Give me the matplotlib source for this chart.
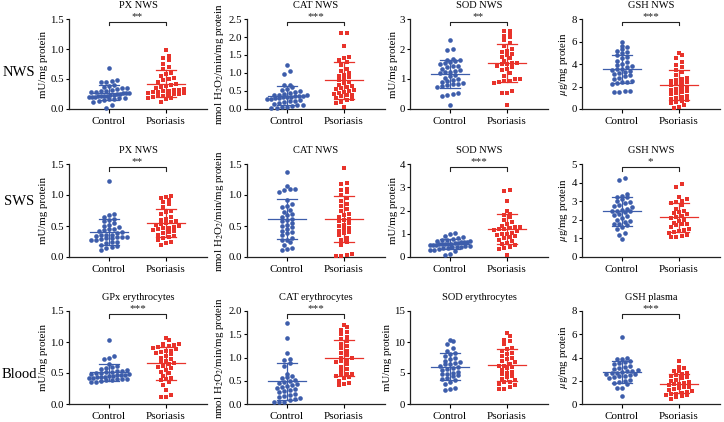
import numpy as np
import matplotlib
matplotlib.use("Agg")
import matplotlib.pyplot as plt
import matplotlib.transforms as mtransforms

plt.rcParams['font.family'] = ['Liberation Serif', 'DejaVu Serif']
plt.rcParams['mathtext.fontset'] = 'stix'

# values (one list per group and panel)
px_nws_ctrl = [0.69, 0.48, 0.47, 0.45, 0.45, 0.40, 0.38, 0.37, 0.35, 0.35, 0.33, 0.32, 0.30, 0.30,
               0.29, 0.28, 0.27, 0.27, 0.26, 0.25, 0.25, 0.24, 0.23, 0.22, 0.22, 0.21, 0.21, 0.20,
               0.20, 0.20, 0.19, 0.18, 0.17, 0.16, 0.15, 0.13, 0.12, 0.07, 0.02]
px_nws_pso = [0.98, 0.88, 0.85, 0.82, 0.75, 0.70, 0.67, 0.60, 0.58, 0.55, 0.52, 0.50, 0.48, 0.45,
              0.42, 0.40, 0.38, 0.36, 0.35, 0.33, 0.32, 0.31, 0.30, 0.30, 0.29, 0.28, 0.27, 0.26,
              0.25, 0.25, 0.24, 0.22, 0.21, 0.20, 0.19, 0.18, 0.16, 0.11]
cat_nws_ctrl = [1.22, 1.05, 0.98, 0.68, 0.66, 0.62, 0.55, 0.52, 0.50, 0.48, 0.45, 0.42, 0.40, 0.40,
                0.38, 0.36, 0.35, 0.35, 0.34, 0.33, 0.32, 0.30, 0.30, 0.28, 0.27, 0.25, 0.23, 0.22,
                0.20, 0.18, 0.15, 0.12, 0.10, 0.08, 0.05, 0.05, 0.03, 0.02]
cat_nws_pso = [2.10, 2.10, 1.75, 1.45, 1.42, 1.35, 1.30, 1.22, 1.10, 1.05, 1.00, 0.95, 0.92, 0.88,
               0.85, 0.80, 0.75, 0.72, 0.68, 0.65, 0.62, 0.58, 0.55, 0.52, 0.50, 0.48, 0.45, 0.42,
               0.40, 0.38, 0.35, 0.30, 0.28, 0.25, 0.20, 0.18, 0.05]
sod_nws_ctrl = [2.30, 2.00, 1.98, 1.68, 1.65, 1.62, 1.60, 1.58, 1.55, 1.50, 1.45, 1.42, 1.40, 1.35,
                1.30, 1.28, 1.25, 1.22, 1.20, 1.15, 1.10, 1.05, 1.00, 0.98, 0.95, 0.90, 0.88, 0.85,
                0.82, 0.80, 0.78, 0.75, 0.55, 0.50, 0.48, 0.45, 0.12]
sod_nws_pso = [2.60, 2.60, 2.50, 2.45, 2.40, 2.30, 2.20, 2.10, 2.00, 1.95, 1.90, 1.85, 1.80, 1.75,
               1.70, 1.60, 1.55, 1.55, 1.50, 1.50, 1.45, 1.40, 1.35, 1.30, 1.20, 1.10, 1.00, 1.00,
               0.95, 0.92, 0.90, 0.88, 0.60, 0.55, 0.55, 0.15]
gsh_nws_ctrl = [6.0, 5.6, 5.5, 5.3, 5.2, 5.1, 5.0, 4.8, 4.6, 4.5, 4.3, 4.2, 4.0, 3.9, 3.8, 3.7,
                3.6, 3.6, 3.5, 3.4, 3.3, 3.2, 3.1, 3.0, 2.9, 2.8, 2.7, 2.5, 2.4, 2.4, 2.3, 2.2,
                1.6, 1.6, 1.5, 1.5]
gsh_nws_pso = [5.0, 4.8, 4.5, 4.2, 3.9, 3.7, 3.5, 3.3, 3.0, 2.8, 2.7, 2.6, 2.5, 2.4, 2.3, 2.2,
               2.1, 2.0, 1.9, 1.8, 1.7, 1.6, 1.5, 1.4, 1.3, 1.2, 1.1, 1.0, 0.9, 0.8, 0.7, 0.6,
               0.5, 0.4, 0.2, 0.1]

px_sws_ctrl = [1.23, 0.69, 0.67, 0.65, 0.62, 0.60, 0.58, 0.55, 0.52, 0.50, 0.48, 0.45, 0.45, 0.43,
               0.42, 0.40, 0.38, 0.36, 0.35, 0.35, 0.34, 0.33, 0.32, 0.32, 0.30, 0.30, 0.29, 0.28,
               0.27, 0.25, 0.24, 0.22, 0.20, 0.18, 0.16, 0.15, 0.12]
px_sws_pso = [0.98, 0.97, 0.95, 0.92, 0.88, 0.85, 0.80, 0.75, 0.72, 0.70, 0.65, 0.62, 0.60, 0.58,
              0.56, 0.55, 0.53, 0.52, 0.50, 0.48, 0.47, 0.46, 0.45, 0.44, 0.42, 0.40, 0.38, 0.36,
              0.34, 0.32, 0.30, 0.28, 0.25, 0.22, 0.20]
cat_sws_ctrl = [1.37, 1.15, 1.10, 1.09, 1.08, 1.05, 0.92, 0.85, 0.83, 0.80, 0.76, 0.73, 0.70, 0.68,
                0.65, 0.62, 0.60, 0.58, 0.55, 0.52, 0.50, 0.48, 0.45, 0.42, 0.40, 0.38, 0.35, 0.30,
                0.28, 0.27, 0.25, 0.20, 0.15, 0.13, 0.12]
cat_sws_pso = [1.43, 1.20, 1.17, 1.10, 1.08, 1.05, 1.00, 0.95, 0.90, 0.85, 0.82, 0.78, 0.75, 0.70,
               0.67, 0.65, 0.62, 0.60, 0.58, 0.55, 0.52, 0.50, 0.47, 0.45, 0.42, 0.40, 0.38, 0.35,
               0.30, 0.27, 0.25, 0.20, 0.05, 0.04, 0.02, 0.01]
sod_sws_ctrl = [1.02, 0.98, 0.90, 0.85, 0.80, 0.78, 0.75, 0.72, 0.70, 0.68, 0.66, 0.65, 0.63, 0.62,
                0.60, 0.58, 0.57, 0.56, 0.55, 0.54, 0.52, 0.50, 0.50, 0.48, 0.46, 0.45, 0.44, 0.42,
                0.40, 0.38, 0.35, 0.32, 0.30, 0.25, 0.12, 0.10]
sod_sws_pso = [2.90, 2.85, 2.40, 2.00, 1.85, 1.80, 1.70, 1.60, 1.50, 1.40, 1.35, 1.30, 1.30, 1.25,
               1.20, 1.20, 1.15, 1.10, 1.05, 1.00, 1.00, 0.95, 0.90, 0.85, 0.80, 0.75, 0.70, 0.60,
               0.55, 0.50, 0.45, 0.40, 0.35, 0.10]
gsh_sws_ctrl = [4.25, 4.15, 3.40, 3.30, 3.25, 3.20, 3.10, 3.00, 2.95, 2.90, 2.80, 2.75, 2.70, 2.60,
                2.55, 2.50, 2.50, 2.45, 2.40, 2.30, 2.25, 2.20, 2.10, 2.00, 1.95, 1.90, 1.80, 1.75,
                1.70, 1.60, 1.50, 1.30, 1.20, 0.95]
gsh_sws_pso = [3.90, 3.75, 3.20, 3.10, 3.00, 2.95, 2.90, 2.80, 2.60, 2.50, 2.40, 2.35, 2.30, 2.20,
               2.15, 2.10, 2.00, 1.95, 1.85, 1.80, 1.75, 1.70, 1.60, 1.50, 1.45, 1.40, 1.35, 1.30,
               1.20, 1.15, 1.10, 1.05]

gpx_ery_ctrl = [1.03, 0.78, 0.75, 0.72, 0.65, 0.62, 0.60, 0.58, 0.56, 0.55, 0.54, 0.53, 0.52, 0.51,
                0.50, 0.50, 0.49, 0.48, 0.47, 0.46, 0.46, 0.45, 0.45, 0.44, 0.44, 0.43, 0.42, 0.42,
                0.41, 0.40, 0.40, 0.39, 0.38, 0.37, 0.36, 0.35]
gpx_ery_pso = [1.07, 1.03, 0.97, 0.96, 0.95, 0.94, 0.93, 0.92, 0.90, 0.88, 0.86, 0.85, 0.84, 0.82,
               0.80, 0.78, 0.75, 0.72, 0.70, 0.68, 0.66, 0.65, 0.62, 0.60, 0.58, 0.55, 0.52, 0.50,
               0.45, 0.42, 0.40, 0.38, 0.35, 0.30, 0.22, 0.15, 0.12, 0.11]
cat_ery_ctrl = [1.75, 1.43, 1.10, 0.97, 0.95, 0.88, 0.82, 0.65, 0.60, 0.58, 0.55, 0.52, 0.50, 0.48,
                0.45, 0.42, 0.40, 0.38, 0.36, 0.35, 0.32, 0.30, 0.28, 0.25, 0.22, 0.20, 0.18, 0.15,
                0.12, 0.10, 0.08, 0.05, 0.05, 0.04]
cat_ery_pso = [1.70, 1.65, 1.60, 1.55, 1.50, 1.45, 1.40, 1.35, 1.30, 1.25, 1.20, 1.15, 1.10, 1.05,
               1.00, 0.98, 0.95, 0.92, 0.90, 0.85, 0.80, 0.75, 0.70, 0.65, 0.65, 0.62, 0.60, 0.58,
               0.55, 0.50, 0.45, 0.42, 0.40]
sod_ery_ctrl = [10.4, 10.1, 9.6, 9.0, 8.5, 8.2, 8.0, 7.8, 7.5, 7.3, 7.0, 6.8, 6.6, 6.5, 6.4, 6.2,
                6.0, 5.8, 5.6, 5.5, 5.2, 5.0, 4.9, 4.8, 4.6, 4.5, 4.2, 4.0, 3.8, 3.5, 3.2, 2.6,
                2.5, 2.3]
sod_ery_pso = [11.5, 11.0, 10.4, 10.2, 9.6, 9.1, 8.8, 8.5, 8.2, 8.0, 7.8, 7.5, 7.2, 7.0, 6.8, 6.5,
               6.2, 6.2, 6.0, 5.8, 5.5, 5.1, 5.0, 4.8, 4.5, 4.3, 4.0, 3.8, 3.5, 3.5, 3.2, 3.0,
               2.8, 2.4, 2.4]
gsh_pla_ctrl = [5.80, 3.95, 3.90, 3.85, 3.70, 3.60, 3.50, 3.40, 3.30, 3.20, 3.10, 3.00, 2.90, 2.85,
                2.80, 2.75, 2.70, 2.65, 2.60, 2.55, 2.50, 2.45, 2.40, 2.30, 2.20, 2.10, 2.00, 1.90,
                1.80, 1.70, 1.40, 1.40, 0.70]
gsh_pla_pso = [3.70, 3.20, 3.10, 2.85, 2.80, 2.70, 2.60, 2.50, 2.40, 2.30, 2.20, 2.10, 2.00, 1.90,
               1.80, 1.75, 1.70, 1.60, 1.50, 1.45, 1.40, 1.30, 1.20, 1.10, 1.00, 0.95, 0.90, 0.85,
               0.80, 0.75, 0.70, 0.60, 0.40]

titles = [["PX NWS", "CAT NWS", "SOD NWS", "GSH NWS"],
          ["PX NWS", "CAT NWS", "SOD NWS", "GSH NWS"],
          ["GPx erythrocytes", "CAT erythrocytes", "SOD erythrocytes", "GSH plasma"]]
row_names = ["NWS", "SWS", "Blood"]
groups = ["Control", "Psoriasis"]
unit_px = "mU/mg protein"
unit_cat = "nmol H$_2$O$_2$/min/mg protein"
unit_gsh = r"$\mu$g/mg protein"
ylabels = [unit_px, unit_cat, unit_px, unit_gsh]
stars = [["**", "***", "**", "***"],
         ["**", "", "***", "*"],
         ["***", "***", "", "***"]]
yticks = [[[0.0, 0.5, 1.0, 1.5], [0.0, 0.5, 1.0, 1.5, 2.0, 2.5], [0, 1, 2, 3], [0, 2, 4, 6, 8]],
          [[0.0, 0.5, 1.0, 1.5], [0.0, 0.5, 1.0, 1.5], [0, 1, 2, 3, 4], [0, 1, 2, 3, 4, 5]],
          [[0.0, 0.5, 1.0, 1.5], [0.0, 0.5, 1.0, 1.5, 2.0], [0, 5, 10, 15], [0, 2, 4, 6, 8]]]
data = [[(px_nws_ctrl, px_nws_pso), (cat_nws_ctrl, cat_nws_pso), (sod_nws_ctrl, sod_nws_pso), (gsh_nws_ctrl, gsh_nws_pso)],
        [(px_sws_ctrl, px_sws_pso), (cat_sws_ctrl, cat_sws_pso), (sod_sws_ctrl, sod_sws_pso), (gsh_sws_ctrl, gsh_sws_pso)],
        [(gpx_ery_ctrl, gpx_ery_pso), (cat_ery_ctrl, cat_ery_pso), (sod_ery_ctrl, sod_ery_pso), (gsh_pla_ctrl, gsh_pla_pso)]]

blue = "#3d5dab"
red = "#e8332b"
W, H = 724, 422


def swarm(ax, vals, d, h, maxw):
    # graphpad-like scatter: points binned into rows of h pixels,
    # each row spread sideways with spacing d (squeezed to fit +-maxw)
    bb = ax.get_window_extent()
    y0, y1 = ax.get_ylim()
    x0, x1 = ax.get_xlim()
    ys = np.array(vals) * bb.height / (y1 - y0)
    order = np.argsort(ys)
    xs = np.zeros(len(vals))
    rows = []
    for i in order:
        if rows and ys[i] - ys[rows[-1][0]] < h:
            rows[-1].append(i)
        else:
            rows.append([i])
    for row in rows:
        n = len(row)
        s = d if n < 2 else min(d, 2 * maxw / (n - 1))
        for j, i in enumerate(row):
            xs[i] = (j - (n - 1) / 2) * s
    return xs * (x1 - x0) / bb.width


fig = plt.figure(figsize=(W / 100, H / 100), dpi=100)
col_left = [69, 247, 410, 582]
row_top = [19, 164, 311]
row_bot = [109, 257, 404]
aw = 138

for r in range(3):
    for c in range(4):
        ax = fig.add_axes([col_left[c] / W, 1 - row_bot[r] / H, aw / W, (row_bot[r] - row_top[r]) / H])
        yt = yticks[r][c]
        ax.set_xlim(-0.7, 1.72)
        ax.set_ylim(0, yt[-1])
        ax.set_yticks(yt)
        if isinstance(yt[1], float):
            ax.set_yticklabels(["%.1f" % v for v in yt])
        ax.set_xticks([0, 1])
        ax.set_xticklabels(groups)
        for s in ["top", "right"]:
            ax.spines[s].set_visible(False)
        for s in ["left", "bottom"]:
            ax.spines[s].set_color("#222222")
            ax.spines[s].set_linewidth(0.9)
        ax.tick_params(axis="y", labelsize=7.8, length=2.5, width=0.8, pad=1)
        ax.tick_params(axis="x", labelsize=8, length=3, width=0.8, pad=3)
        ax.set_ylabel(ylabels[c], fontsize=7.8, labelpad=1.5)
        ax.set_title(titles[r][c], fontsize=7.5, pad=8)

        for g in range(2):
            vals = np.array(data[r][c][g])
            col = blue if g == 0 else red
            xs = g + swarm(ax, vals, 5.2, 4.2, 20)
            if g == 0:
                ax.scatter(xs, vals, s=11, marker="o", color=col, linewidths=0, clip_on=False, zorder=3)
            else:
                ax.scatter(xs, vals, s=12, marker="s", color=col, linewidths=0, clip_on=False, zorder=3)
            m = vals.mean()
            sd = vals.std(ddof=1)
            # mean line, sd bar and caps
            ax.plot([g - 0.33, g + 0.33], [m, m], color=col, lw=0.9, zorder=4)
            ax.plot([g, g], [max(m - sd, 0), m + sd], color=col, lw=0.9, zorder=4)
            ax.plot([g - 0.17, g + 0.17], [m + sd, m + sd], color=col, lw=0.9, zorder=4)
            if m - sd > 0:
                ax.plot([g - 0.17, g + 0.17], [m - sd, m - sd], color=col, lw=0.9, zorder=4)

        if stars[r][c]:
            tr = mtransforms.blended_transform_factory(ax.transData, ax.transAxes)
            ax.plot([0, 0, 1, 1], [0.93, 0.97, 0.97, 0.93], color="#222222", lw=0.8,
                    transform=tr, clip_on=False)
            ax.text(0.5, 0.975, stars[r][c], transform=tr, ha="center", va="bottom",
                    fontsize=8, color="#222222")

row_x = [3, 4, 2]
row_y = [72, 202, 375]
for r in range(3):
    fig.text(row_x[r] / W, 1 - row_y[r] / H, row_names[r], fontsize=10.5, ha="left", va="center")

fig.savefig("out.png", dpi=100)
